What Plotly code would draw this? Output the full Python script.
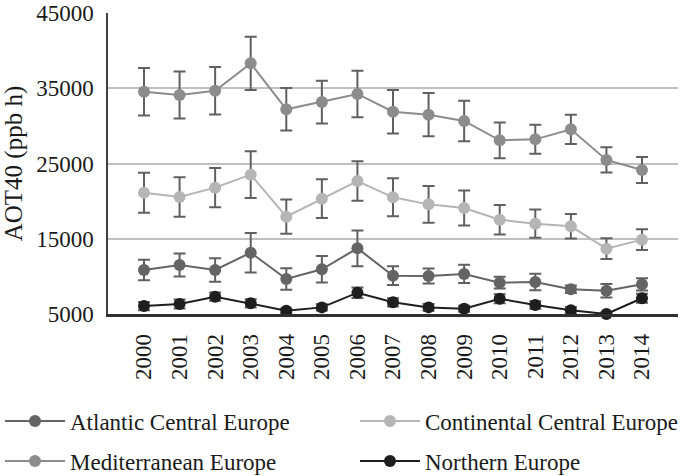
import plotly.graph_objects as go

years = [str(y) for y in range(2000, 2015)]

atlantic = [10850, 11510, 10850, 13150, 9650, 10940, 13730, 10090, 10050, 10320, 9160, 9250, 8280, 8100, 8940]
atlantic_err = [1370, 1540, 1550, 2630, 1420, 1770, 2370, 1250, 1000, 1210, 780, 1110, 500, 900, 820]

continental = [21120, 20550, 21790, 23520, 17930, 20330, 22670, 20510, 19570, 19090, 17530, 17000, 16650, 13680, 14880]
continental_err = [2660, 2610, 2620, 3120, 2280, 2570, 2620, 2520, 2450, 2330, 1970, 1880, 1630, 1370, 1390]

mediterranean = [34540, 34100, 34670, 38310, 32200, 33170, 34240, 31890, 31490, 30650, 28080, 28210, 29540, 25470, 24140]
mediterranean_err = [3150, 3120, 3160, 3540, 2820, 2840, 3080, 2890, 2880, 2680, 2370, 1930, 1950, 1680, 1730]

northern = [6060, 6330, 7300, 6420, 5440, 5880, 7830, 6550, 5880, 5700, 7030, 6200, 5490, 5000, 7090]
northern_err = [550, 600, 550, 550, 300, 400, 700, 550, 450, 400, 600, 500, 450, 200, 600]

# name, values, errors, colour, legend id, legend x (px), legend y (px)
series = [
    ("Atlantic Central Europe", atlantic, atlantic_err, "#646464", "legend", 0, 421),
    ("Continental Central Europe", continental, continental_err, "#b5b5b5", "legend2", 355, 421),
    ("Mediterranean Europe", mediterranean, mediterranean_err, "#8c8c8c", "legend3", 0, 461),
    ("Northern Europe", northern, northern_err, "#1e1e1e", "legend4", 355, 461),
]

FONT = "Times New Roman, Liberation Serif, Times, serif"
W, H = 685, 476

fig = go.Figure()
for name, vals, err, col, leg, lx, ly in series:
    fig.add_trace(go.Scatter(
        x=years, y=vals, name=name, mode="lines+markers",
        line=dict(color=col, width=2),
        marker=dict(color=col, size=12),
        error_y=dict(type="data", array=err, visible=True, color="#606060", thickness=2, width=6),
        cliponaxis=False,
        legend=leg,
    ))

legends = {}
for name, vals, err, col, leg, lx, ly in series:
    legends[leg] = dict(
        orientation="h", xref="container", yref="container",
        x=lx / W, xanchor="left", y=1 - ly / H, yanchor="middle",
        itemwidth=60,
        font=dict(family=FONT, size=23, color="#1a1a1a"), bgcolor="rgba(0,0,0,0)",
    )

fig.update_layout(
    width=W, height=H,
    margin=dict(l=108, r=7, t=13, b=162, autoexpand=False),
    paper_bgcolor="white", plot_bgcolor="white",
    font=dict(family=FONT, size=23, color="#1a1a1a"),
    xaxis=dict(
        type="category", tickangle=-90, showgrid=False,
        showline=True, linecolor="#303030", linewidth=2.5,
        ticks="", ticklabelstandoff=8, tickfont=dict(family=FONT, size=23, color="#1a1a1a"),
        automargin=False,
    ),
    yaxis=dict(
        range=[5000, 45000], tick0=5000, dtick=10000, tickformat="d",
        showgrid=True, gridcolor="#c0c0c0", gridwidth=1.5,
        showline=True, linecolor="#404040", linewidth=1.5,
        ticks="", ticklabelstandoff=8, zeroline=False,
        tickfont=dict(family=FONT, size=23, color="#1a1a1a"),
        title=dict(text="AOT40 (ppb h)", font=dict(family=FONT, size=25, color="#1a1a1a"), standoff=8),
        automargin=False,
    ),
    showlegend=True,
    **legends,
)

fig.write_html("out.html", config={"displayModeBar": False},
               post_script="document.body.style.margin='0';")
